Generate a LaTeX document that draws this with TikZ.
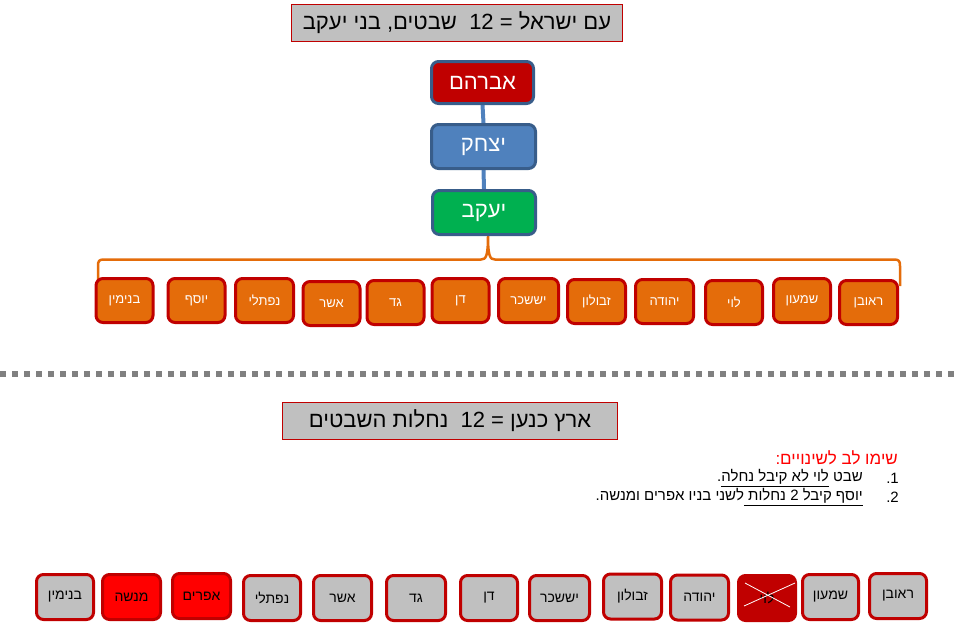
\documentclass[tikz,border=0pt]{standalone}
\usepackage{fontspec}
\setmainfont{Liberation Sans}
\newfontfamily\heb[Script=Hebrew]{Liberation Sans}
\TeXXeTstate=1
\usetikzlibrary{calc}
\pgfdeclarelayer{bg}
\pgfsetlayers{bg,main}
\definecolor{dred}{HTML}{C00000}
\definecolor{bred}{HTML}{FF0000}
\definecolor{lgray}{HTML}{C0C0C0}
\definecolor{orng}{HTML}{E46C0A}
\definecolor{bblue}{HTML}{4F81BD}
\definecolor{dblue}{HTML}{385D8A}
\definecolor{ggreen}{HTML}{00B050}
\definecolor{dgray}{HTML}{808080}
\newcommand\rtl[1]{\beginR #1\endR}
\tikzset{
  titlebox/.style={draw=dred, fill=lgray, line width=1.2pt, inner sep=0pt, font=\heb\fontsize{22}{25}\selectfont},
  famA/.style={draw=dblue, line width=3pt, rounded corners=7pt, inner sep=0pt, text=white, font=\heb\fontsize{22}{25}\selectfont},
  tribeA/.style={draw=dred, fill=orng, line width=3pt, rounded corners=7pt, minimum width=57pt, minimum height=44pt, inner sep=0pt, text=white, font=\heb\fontsize{13}{15}\selectfont},
  tribeB/.style={draw=dred, fill=lgray, line width=3pt, rounded corners=7pt, minimum width=57pt, minimum height=45pt, inner sep=0pt, text=black, font=\heb\fontsize{14}{16}\selectfont},
  redB/.style={tribeB, fill=bred},
  levB/.style={tribeB, fill=dred},
  famline/.style={bblue, line width=4pt},
  bracel/.style={orng, line width=2.5pt},
  notetext/.style={inner sep=0pt, font=\heb\fontsize{15}{17}\selectfont},
}
\begin{document}
\begin{tikzpicture}[x=1pt,y=-1pt]
\useasboundingbox (0,0) rectangle (960,622);
% title 1
\node[titlebox, minimum width=331pt, minimum height=37pt] (t1) at (457,23) {\rtl{עם ישראל = 12\ \ שבטים, בני יעקב}};
% family tree
\node[famA, fill=dred, minimum width=102pt, minimum height=42pt] (abr) at (482.5,82.5) {\rtl{אברהם}};
\node[famA, fill=bblue, minimum width=104pt, minimum height=44pt] (yit) at (483.5,146.5) {\rtl{יצחק}};
\node[famA, fill=ggreen, minimum width=103pt, minimum height=44pt] (yaa) at (484,212.5) {\rtl{יעקב}};
% row 1
\node[tribeA] (a1) at (124.5,300.5) {\rtl{בנימין}};
\node[tribeA] (a2) at (196.5,300.5) {\rtl{יוסף}};
\node[tribeA, minimum width=58pt] (a3) at (264.5,300.5) {\rtl{נפתלי}};
\node[tribeA] (a4) at (331.5,303.5) {\rtl{אשר}};
\node[tribeA] (a5) at (395.5,302.5) {\rtl{גד}};
\node[tribeA] (a6) at (460.5,300.5) {\rtl{דן}};
\node[tribeA, minimum width=60pt] (a7) at (528.5,300.5) {\rtl{יששכר}};
\node[tribeA, minimum width=58pt] (a8) at (596.5,301.5) {\rtl{זבולון}};
\node[tribeA, minimum width=58pt] (a9) at (664.5,301.5) {\rtl{יהודה}};
\node[tribeA] (a10) at (734,302.5) {\rtl{לוי}};
\node[tribeA] (a11) at (802,300.5) {\rtl{שמעון}};
\node[tribeA, minimum width=58pt] (a12) at (868.5,302.5) {\rtl{ראובן}};
% connectors and brace behind the boxes
\begin{pgfonlayer}{bg}
\draw[famline] (abr.south) -- (yit.north);
\draw[famline] (yit.south) -- (yaa.north);
\coordinate (bl) at (98,285);
\coordinate (br) at (900,286);
\draw[bracel] (bl) -- (98,266) .. controls (98,261) and (99,259.5) .. (104,259.5) -- (481,259.5)
  .. controls (486,259.5) and (488,256) .. (488,236)
  .. controls (488,256) and (490,259.5) .. (495,259.5) -- (894,259.5)
  .. controls (899,259.5) and (900,261) .. (900,266) -- (br);
\end{pgfonlayer}
% divider
\draw[dgray, line width=6pt, dash pattern=on 6pt off 6pt] (0,374) -- (960,374);
% title 2
\node[titlebox, minimum width=335pt, minimum height=37pt] (t2) at (450,421) {\rtl{ארץ כנען = 12\ \ נחלות השבטים}};
% notes
\node[inner sep=0pt, anchor=east, text=bred, font=\heb\fontsize{17}{20}\selectfont] (nh) at (898,458) {\rtl{שימו לב לשינויים:}};
\node[notetext, anchor=east] (n1) at (899,478) {1.};
\node[notetext, anchor=east] (s1) at (863,478) {\rtl{שבט \underline{\rtl{לוי לא קיבל נחלה}}.}};
\node[notetext, anchor=east] (n2) at (899,497) {2.};
\node[notetext, anchor=east] (s2) at (863,497) {\rtl{\underline{\rtl{יוסף קיבל 2 נחלות }}לשני בניו אפרים ומנשה.}};
% row 2
\node[tribeB] (b1) at (65,597) {\rtl{בנימין}};
\node[redB, minimum width=58pt] (b2) at (131.5,597) {\rtl{מנשה}};
\node[redB, minimum width=58pt] (b3) at (201.5,596) {\rtl{אפרים}};
\node[tribeB] (b4) at (272,598) {\rtl{נפתלי}};
\node[tribeB, minimum width=58pt] (b5) at (342.5,598) {\rtl{אשר}};
\node[tribeB, minimum width=59pt] (b6) at (416,598) {\rtl{גד}};
\node[tribeB] (b7) at (489,598) {\rtl{דן}};
\node[tribeB, minimum width=60pt] (b8) at (559.5,598) {\rtl{יששכר}};
\node[tribeB, minimum width=58pt] (b9) at (632.5,596.5) {\rtl{זבולון}};
\node[tribeB, minimum width=58pt] (b10) at (699.5,597.5) {\rtl{יהודה}};
\node[levB] (b11) at (767,598) {\rtl{לוי}};
\node[tribeB, minimum width=56pt] (b12) at (830.5,597) {\rtl{שמעון}};
\node[tribeB] (b13) at (898,596) {\rtl{ראובן}};
\draw[white, line width=0.8pt] ($(b11)+(-22,-15)$) -- ($(b11)+(23,9)$);
\draw[white, line width=0.8pt] ($(b11)+(-23,8)$) -- ($(b11)+(28,-15)$);
\end{tikzpicture}
\end{document}
